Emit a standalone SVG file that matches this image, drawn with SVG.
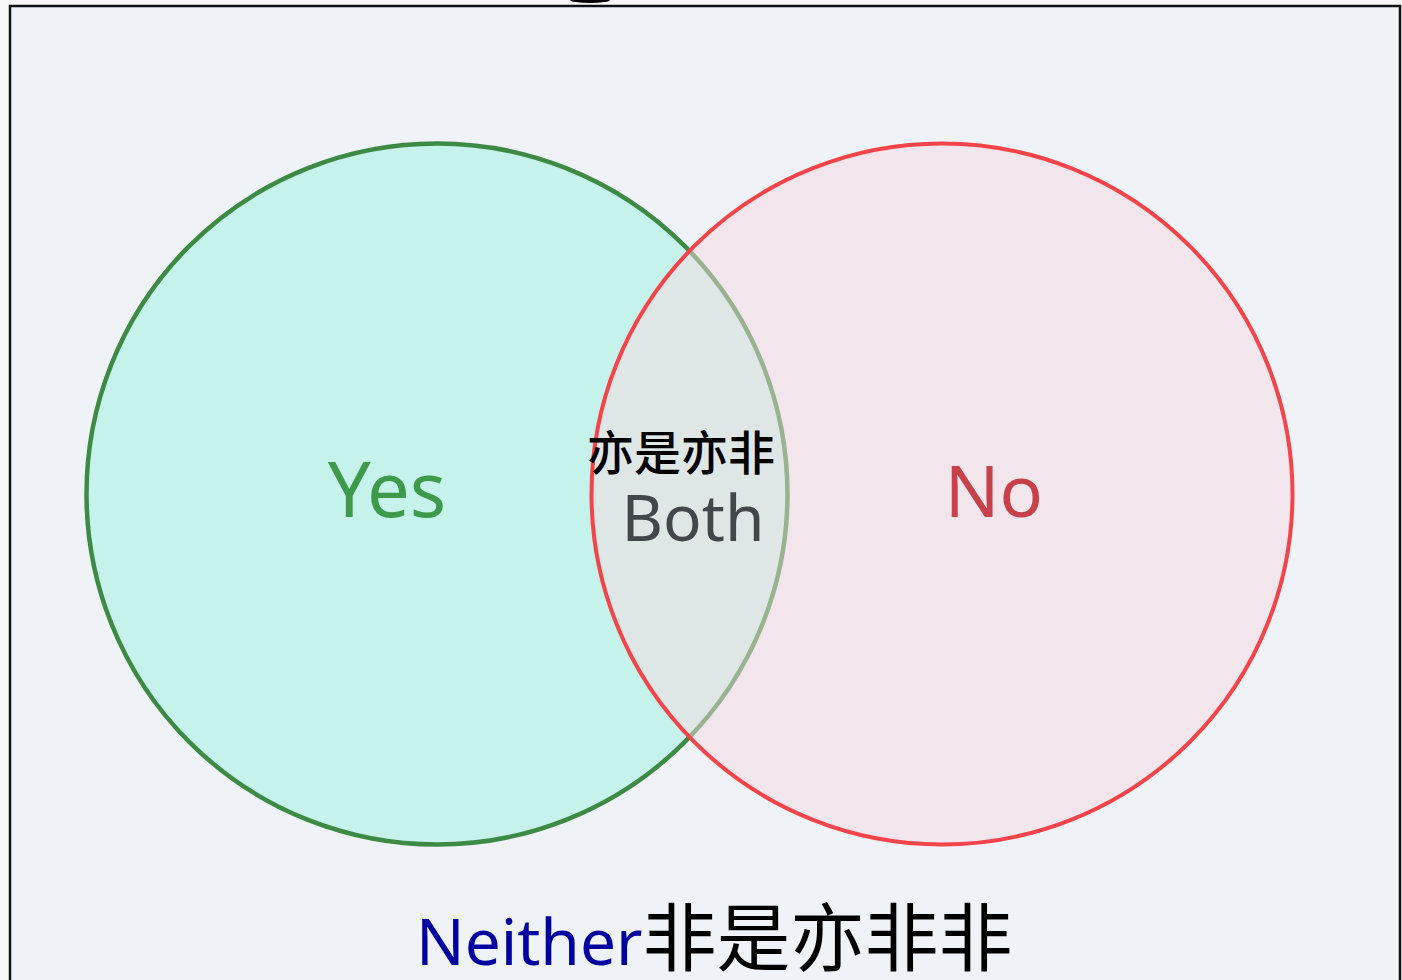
<svg xmlns="http://www.w3.org/2000/svg" width="1402" height="980" viewBox="0 0 1402 980">
<style>
.lbl{font-family:"Noto Sans","Open Sans",sans-serif;text-anchor:middle}
.cjk{font-family:"Noto Sans CJK SC",sans-serif}
</style>
<rect x="0" y="0" width="1402" height="980" fill="#f8f8f8"/>
<g id="frame">
<rect x="10" y="6" width="1390" height="990" fill="#eff3f8" stroke="#111" stroke-width="2.5"/>
<ellipse cx="590" cy="0" rx="20" ry="3" fill="#000"/>
</g>
<g id="yes">
<circle cx="437" cy="494" r="350.5" fill="#c6f2ec" stroke="#3d8a45" stroke-width="4.5"/>
<text class="lbl" x="387" y="517" font-size="76" fill="#3d9a4a">Yes</text>
</g>
<g id="no">
<circle cx="942" cy="494" r="350.5" fill="rgb(245,217,224)" fill-opacity="0.5" stroke="none"/>
<circle cx="942" cy="494" r="350.5" fill="none" stroke="#f4444a" stroke-width="4"/>
<text class="lbl" x="994" y="517" font-size="72" fill="#c8414a">No</text>
</g>
<g id="both">
<text class="lbl cjk" x="681" y="470" font-size="47" font-weight="500" fill="#000">亦是亦非</text>
<text class="lbl" x="693" y="541" font-size="64" fill="#43474b">Both</text>
</g>
<g id="neither">
<text x="416" y="965" font-size="70"><tspan font-family="Noto Sans, sans-serif" fill="#0000a0" font-size="64">Neither</tspan><tspan font-family="Noto Sans CJK SC, sans-serif" fill="#000" font-size="74">非是亦非非</tspan></text>
</g>
<g id="connectors"/>
</svg>
